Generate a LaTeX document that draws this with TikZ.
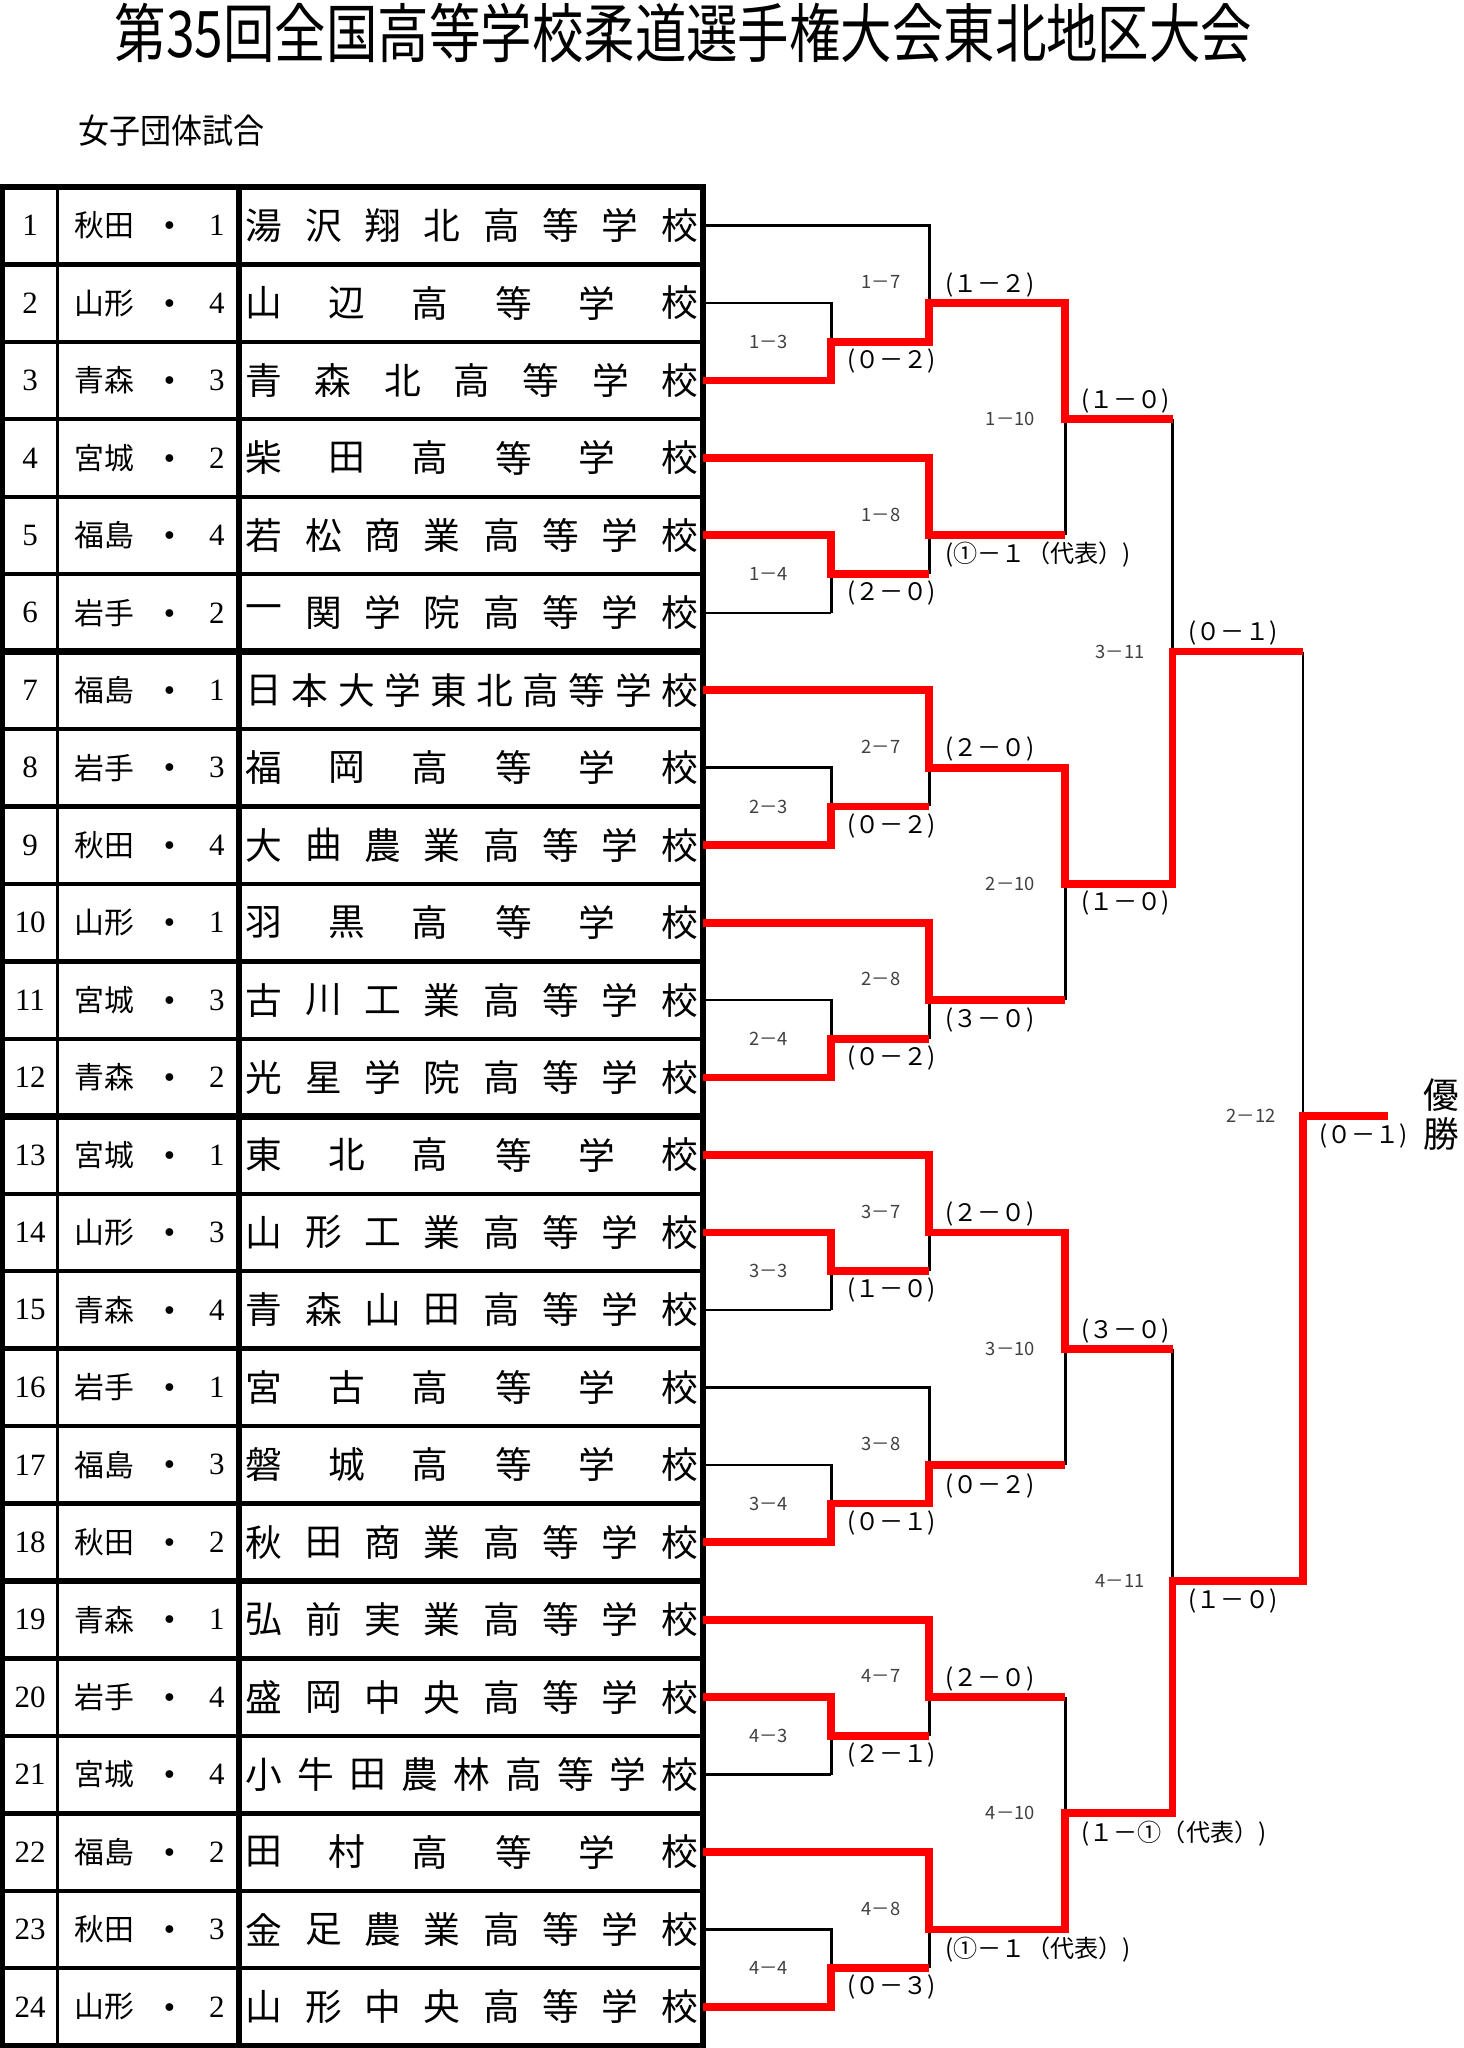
\documentclass[tikz,border=0pt]{standalone}
\usepackage{graphicx}
\usepackage{fontspec}
\setmainfont{Noto Sans CJK JP}
\newfontfamily\numfont{Liberation Serif}
\newcommand{\ry}[1]{172.6+59.25*(#1-1)}
\tikzset{
    win/.style={draw=red,line width=3.4pt},
    lose/.style={draw=black,line width=1.1pt},
    frame/.style={line width=2.4pt},
    colline/.style={line width=1.4pt},
    rowline/.style={line width=1.9pt},
    groupline/.style={line width=2.9pt},
    numcell/.style={font=\numfont\fontsize{13.5}{13.5}\selectfont,inner sep=0pt},
    prefcell/.style={anchor=west,font=\fontsize{13}{13}\selectfont,inner sep=0pt},
    schoolchar/.style={font=\fontsize{16}{16}\selectfont,inner sep=0pt},
    matchlabel/.style={font=\fontsize{8}{8}\selectfont,inner sep=0pt,text=black!75},
    score/.style={anchor=west,font=\fontsize{10.5}{10.5}\selectfont,inner sep=0pt},
    }
\begin{document}
\begin{tikzpicture}[x=0.02cm,y=-0.02cm]
    \useasboundingbox[fill=white] (0,0) rectangle (1120,1566.8);
    \node[font=\fontsize{22.4}{22.4}\selectfont,inner sep=0pt] (title) at (523,25) {\scalebox{1}[1.25]{第35回全国高等学校柔道選手権大会東北地区大会}};
    \node[anchor=west,font=\fontsize{13.5}{13.5}\selectfont,inner sep=0pt] (subtitle) at (60,100) {\scalebox{1}[1.1]{女子団体試合}};

    % table
    \draw[frame] (2,143) rectangle (538,1565);
    \draw[colline] (44,143) -- (44,1565);
    \draw[frame] (183,143) -- (183,1565);
    \foreach \i in {1,...,23}
        \draw[rowline] (2,{143+59.25*\i}) -- (538,{143+59.25*\i});
    \foreach \i in {6,12,18}
        \draw[groupline] (2,{143+59.25*\i}) -- (538,{143+59.25*\i});

    \foreach \i/\pref/\seed/\n/\name in {
        1/秋田/1/8/{湯,沢,翔,北,高,等,学,校},
        2/山形/4/6/{山,辺,高,等,学,校},
        3/青森/3/7/{青,森,北,高,等,学,校},
        4/宮城/2/6/{柴,田,高,等,学,校},
        5/福島/4/8/{若,松,商,業,高,等,学,校},
        6/岩手/2/8/{一,関,学,院,高,等,学,校},
        7/福島/1/10/{日,本,大,学,東,北,高,等,学,校},
        8/岩手/3/6/{福,岡,高,等,学,校},
        9/秋田/4/8/{大,曲,農,業,高,等,学,校},
        10/山形/1/6/{羽,黒,高,等,学,校},
        11/宮城/3/8/{古,川,工,業,高,等,学,校},
        12/青森/2/8/{光,星,学,院,高,等,学,校},
        13/宮城/1/6/{東,北,高,等,学,校},
        14/山形/3/8/{山,形,工,業,高,等,学,校},
        15/青森/4/8/{青,森,山,田,高,等,学,校},
        16/岩手/1/6/{宮,古,高,等,学,校},
        17/福島/3/6/{磐,城,高,等,学,校},
        18/秋田/2/8/{秋,田,商,業,高,等,学,校},
        19/青森/1/8/{弘,前,実,業,高,等,学,校},
        20/岩手/4/8/{盛,岡,中,央,高,等,学,校},
        21/宮城/4/9/{小,牛,田,農,林,高,等,学,校},
        22/福島/2/6/{田,村,高,等,学,校},
        23/秋田/3/8/{金,足,農,業,高,等,学,校},
        24/山形/2/8/{山,形,中,央,高,等,学,校}}
    {
        \node[numcell] (n\i) at (23,{\ry{\i}}) {\i};
        \node[prefcell] (p\i) at (57,{\ry{\i}}) {\pref};
        \node[schoolchar] (d\i) at (130,{\ry{\i}+4}) {・};
        \node[numcell] (s\i) at (166,{\ry{\i}}) {\seed};
        \foreach \c [count=\k] in \name
            \node[schoolchar] (c\i-\k) at ({202+(\k-1)*318/(\n-1)},{\ry{\i}}) {\c};
        \coordinate (r\i) at (538,{\ry{\i}});
    }

    % bracket, black first
    \coordinate (f1) at (897,320.725);
    \coordinate (f2) at (897,676.225);
    \coordinate (f3) at (897,1031.725);
    \coordinate (f4) at (897,1387.225);
    \coordinate (s1) at (997,498.475);
    \coordinate (s2) at (997,1209.475);
    \coordinate (champ) at (1062,853.975);

    \foreach \t [count=\j from 0, evaluate=\t as \u using int(\t+1), evaluate=\t as \v using int(\t+2),
                 evaluate=\j as \g using int(floor(\j/2)+1), evaluate=\j as \ma using {int(3+mod(\j,2))},
                 evaluate=\j as \mb using {int(7+mod(\j,2))}] in {1,4,...,22} {
        \draw[lose] (r\t) -| (711,{\ry{\v}-29.625});
        \draw[lose] (r\u) -| (636,{\ry{\v}});
        \draw[lose] (r\v) -- (636,{\ry{\v}});
        \draw[lose] (636,{\ry{\v}-29.625}) -- (711,{\ry{\v}-29.625});
        \draw[lose] (711,{\ry{\u}}) -- (815,{\ry{\u}});
        \node[matchlabel] (a\t) at (588,{\ry{\v}-29.625}) {\g－\ma};
        \node[matchlabel] (b\t) at (674,{\ry{\u}-16}) {\g－\mb};
    }
    \foreach \a/\b [count=\k] in {2/5,8/11,14/17,20/23} {
        \draw[lose] (815,{\ry{\a}}) -- (815,{\ry{\b}});
        \draw[lose] (f\k) -- ++(-82,0);
        \node[matchlabel] (q\k) at (773,{(\ry{\a}+\ry{\b})/2}) {\k－10};
    }
    \draw[lose] (f1) -- (f2);
    \draw[lose] (f1 |- s1) -- (s1);
    \draw[lose] (f3) -- (f4);
    \draw[lose] (f3 |- s2) -- (s2);
    \draw[lose] (s1) -- (s2);
    \draw[lose] (s1 |- champ) -- (champ);
    \node[matchlabel] (m311) at (857,498.475) {3－11};
    \node[matchlabel] (m411) at (857,1209.475) {4－11};
    \node[matchlabel] (m212) at (957,853.975) {2－12};

    % winners in red
    \draw[win] (r3) -| (636,{\ry{3}-29.625}) -| (711,{\ry{2}}) -- (815,{\ry{2}}) |- (f1);
    \draw[win] (r5) -| (636,{\ry{5}+29.625}) -- (711,{\ry{5}+29.625});
    \draw[win] (r4) -| (711,{\ry{5}}) -- (815,{\ry{5}});
    \draw[win] (r9) -| (636,{\ry{9}-29.625}) -- (711,{\ry{9}-29.625});
    \draw[win] (r7) -| (711,{\ry{8}}) -- (815,{\ry{8}}) |- (f2) |- (s1);
    \draw[win] (r12) -| (636,{\ry{12}-29.625}) -- (711,{\ry{12}-29.625});
    \draw[win] (r10) -| (711,{\ry{11}}) -- (815,{\ry{11}});
    \draw[win] (r14) -| (636,{\ry{14}+29.625}) -- (711,{\ry{14}+29.625});
    \draw[win] (r13) -| (711,{\ry{14}}) -- (815,{\ry{14}}) |- (f3);
    \draw[win] (r18) -| (636,{\ry{18}-29.625}) -| (711,{\ry{17}}) -- (815,{\ry{17}});
    \draw[win] (r20) -| (636,{\ry{20}+29.625}) -- (711,{\ry{20}+29.625});
    \draw[win] (r19) -| (711,{\ry{20}}) -- (815,{\ry{20}});
    \draw[win] (r24) -| (636,{\ry{24}-29.625}) -- (711,{\ry{24}-29.625});
    \draw[win] (r22) -| (711,{\ry{23}}) -- (815,{\ry{23}}) |- (f4) |- (s2) |- (champ);

    % scores
    \foreach \y/\txt [count=\k] in {{\ry{3}-15}/(０－２), {\ry{6}-15}/(２－０),
                         {\ry{9}-15}/(０－２), {\ry{12}-15}/(０－２),
                         {\ry{15}-15}/(１－０), {\ry{18}-15}/(０－１),
                         {\ry{21}-15}/(２－１), {\ry{24}-15}/(０－３)}
        \node[score] (e\k) at (648,{\y}) {\txt};
    \foreach \y/\txt [count=\k] in {{\ry{2}-14}/(１－２), {\ry{5}+15}/(①－１（代表）),
                         {\ry{8}-14}/(２－０), {\ry{11}+15}/(３－０),
                         {\ry{14}-14}/(２－０), {\ry{17}+16}/(０－２),
                         {\ry{20}-14}/(２－０), {\ry{23}+15}/(①－１（代表）)}
        \node[score] (g\k) at (723,{\y}) {\txt};
    \node[score] (h1) at (827,307) {(１－０)};
    \node[score] (h2) at (827,691) {(１－０)};
    \node[score] (h3) at (827,1018) {(３－０)};
    \node[score] (h4) at (827,1403) {(１－①（代表）)};
    \node[score] (k1) at (909,484) {(０－１)};
    \node[score] (k2) at (909,1225) {(１－０)};
    \node[score] (k3) at (1009,869) {(０－１)};
    \node[align=center,font=\fontsize{15.5}{17}\selectfont,inner sep=0pt] (winner) at (1103,853) {優\\勝};
\end{tikzpicture}
\end{document}
